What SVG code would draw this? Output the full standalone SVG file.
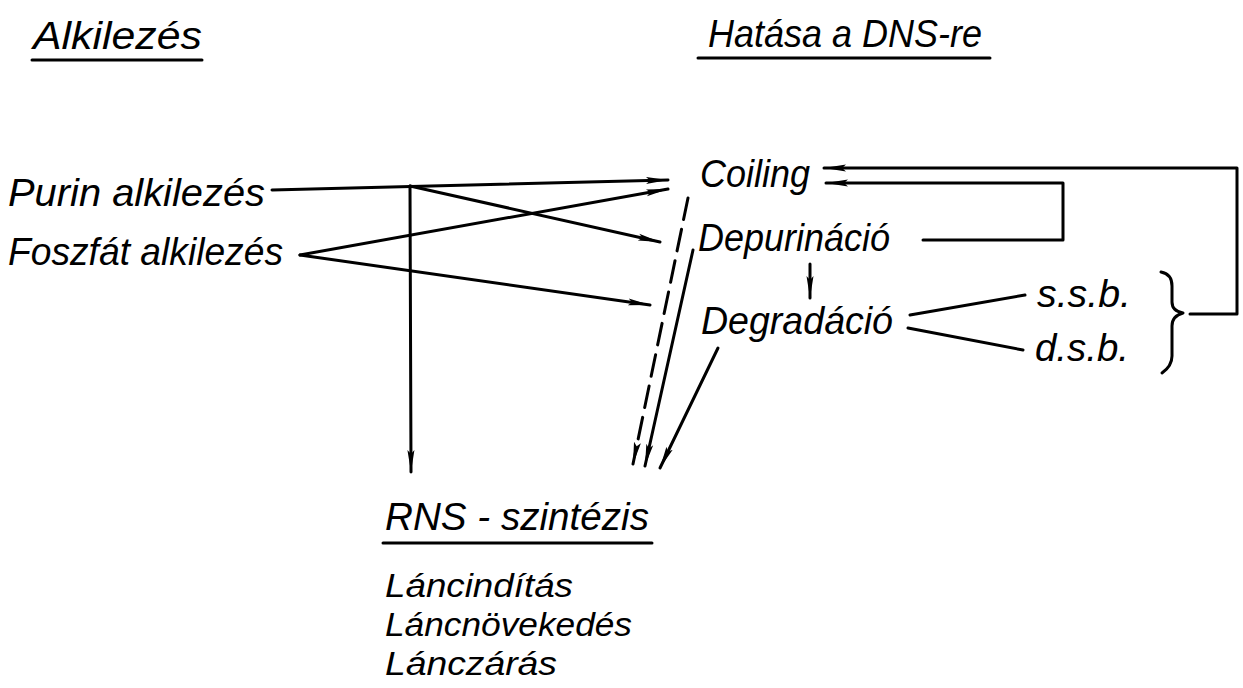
<svg xmlns="http://www.w3.org/2000/svg" width="1243" height="688" viewBox="0 0 1243 688">
  <style>
    text { font-family: "Liberation Sans", "DejaVu Sans", sans-serif; font-style: italic; font-size: 38px; fill: #000; }
    .sub { font-size: 34px; }
    .ln { fill: none; stroke: #000; stroke-width: 3; stroke-linecap: round; stroke-linejoin: round; }
    .dash { stroke-dasharray: 22 10; }
    .arr { marker-end: url(#head); }
  </style>
  <defs>
    <marker id="head" markerUnits="userSpaceOnUse" markerWidth="24" markerHeight="12" refX="22" refY="5" orient="auto">
      <path d="M0,1.5 L22,5 L0,8.5 L4,5 Z" fill="#000"/>
    </marker>
  </defs>
  <rect width="1243" height="688" fill="#fff"/>

  <!-- column headings -->
  <g id="heading-alkilezes">
    <text x="33" y="49" textLength="169" lengthAdjust="spacingAndGlyphs">Alkilezés</text>
    <line class="ln" x1="32" y1="60" x2="202" y2="60"/>
  </g>
  <g id="heading-hatasa">
    <text x="708" y="47" textLength="274" lengthAdjust="spacingAndGlyphs">Hatása a DNS-re</text>
    <line class="ln" x1="698" y1="58" x2="990" y2="58"/>
  </g>

  <!-- alkylation types -->
  <g id="purin"><text x="8" y="206" textLength="257" lengthAdjust="spacingAndGlyphs">Purin alkilezés</text></g>
  <g id="foszfat"><text x="8" y="265" textLength="275" lengthAdjust="spacingAndGlyphs">Foszfát alkilezés</text></g>

  <!-- effects on DNA -->
  <g id="coiling"><text x="700" y="187" textLength="110" lengthAdjust="spacingAndGlyphs">Coiling</text></g>
  <g id="depurinacio"><text x="698" y="251" textLength="192" lengthAdjust="spacingAndGlyphs">Depurináció</text></g>
  <g id="degradacio"><text x="701" y="334" textLength="192" lengthAdjust="spacingAndGlyphs">Degradáció</text></g>
  <g id="ssb"><text x="1037" y="307" textLength="94" lengthAdjust="spacingAndGlyphs">s.s.b.</text></g>
  <g id="dsb"><text x="1035" y="361" textLength="94" lengthAdjust="spacingAndGlyphs">d.s.b.</text></g>
  <g id="brace">
    <path class="ln" d="M1161,272 Q1172,274 1172,286 L1172,302 Q1172,311 1183,313 Q1172,316 1172,326 L1172,356 Q1172,366 1162,373"/>
  </g>

  <!-- RNA synthesis -->
  <g id="rns-szintezis">
    <text x="385" y="530" textLength="264" lengthAdjust="spacingAndGlyphs">RNS - szintézis</text>
    <line class="ln" x1="383" y1="543" x2="652" y2="543"/>
    <text class="sub" x="385" y="597" textLength="188" lengthAdjust="spacingAndGlyphs">Láncindítás</text>
    <text class="sub" x="385" y="636" textLength="247" lengthAdjust="spacingAndGlyphs">Láncnövekedés</text>
    <text class="sub" x="385" y="675" textLength="172" lengthAdjust="spacingAndGlyphs">Lánczárás</text>
  </g>

  <!-- connectors -->
  <g id="connectors">
    <!-- Purin alkilezés -->
    <line class="ln arr" x1="272" y1="190" x2="668" y2="180"/>
    <line class="ln arr" x1="410" y1="186" x2="660" y2="242"/>
    <line class="ln arr" x1="410" y1="186" x2="411" y2="472"/>
    <!-- Foszfát alkilezés -->
    <line class="ln arr" x1="300" y1="255" x2="668" y2="189"/>
    <line class="ln arr" x1="300" y1="255" x2="650" y2="305"/>
    <!-- Depurináció to Degradáció -->
    <line class="ln arr" x1="810" y1="264" x2="810" y2="298"/>
    <!-- Degradáció to strand breaks -->
    <line class="ln" x1="910" y1="315" x2="1025" y2="295"/>
    <line class="ln" x1="908" y1="328" x2="1023" y2="350"/>
    <!-- feedback loops into Coiling -->
    <polyline class="ln arr" points="923,240 1063,240 1063,183 826,183"/>
    <polyline class="ln arr" points="1190,314 1237,314 1237,168 824,168"/>
    <!-- effects on RNA synthesis -->
    <line class="ln arr dash" x1="688" y1="198" x2="633" y2="464"/>
    <line class="ln arr" x1="693" y1="250" x2="645" y2="466"/>
    <line class="ln arr" x1="718" y1="348" x2="660" y2="468"/>
  </g>
</svg>
